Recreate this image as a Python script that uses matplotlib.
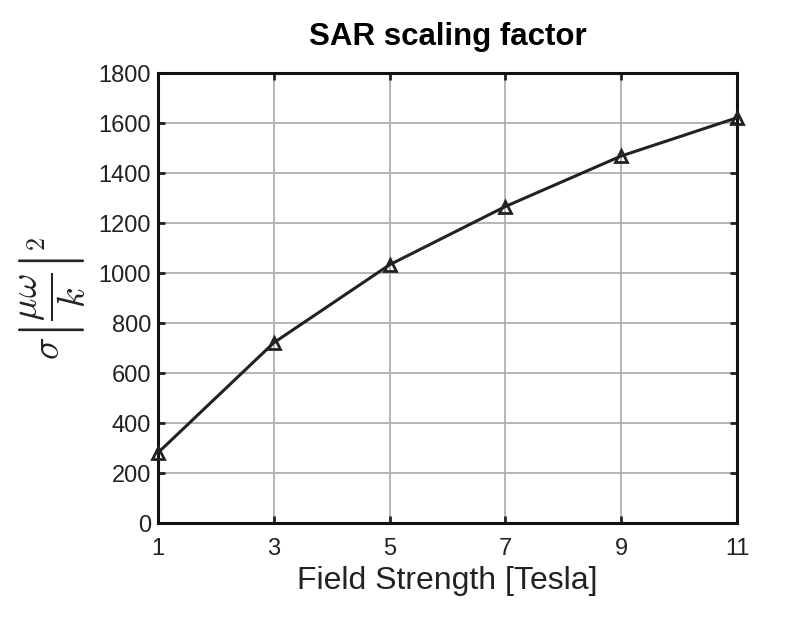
import matplotlib
matplotlib.use("agg")
import matplotlib.pyplot as plt

field_tesla = [1, 3, 5, 7, 9, 11]
sar_factor = [281, 721, 1033, 1266, 1468, 1621]
x_ticks = [1, 3, 5, 7, 9, 11]
y_ticks = [0, 200, 400, 600, 800, 1000, 1200, 1400, 1600, 1800]

plt.rcParams["font.family"] = ["Liberation Sans", "DejaVu Sans"]
plt.rcParams["mathtext.fontset"] = "cm"

fig = plt.figure(figsize=(8, 6.25), dpi=100)
ax = fig.add_axes([158 / 800, 1 - 523 / 625, (737 - 158) / 800, (523 - 73) / 625])

ax.plot(field_tesla, sar_factor, color="#222222", lw=2.2, marker="^",
        markersize=8.5, markerfacecolor="none", markeredgecolor="#222222",
        markeredgewidth=2, zorder=3, clip_on=False)

ax.set_xlim(1, 11)
ax.set_ylim(0, 1800)
ax.set_xticks(x_ticks)
ax.set_yticks(y_ticks)
ax.grid(True, color="#b0b0b0", lw=1.3)
ax.tick_params(direction="in", length=5, width=2, top=True, right=True,
               labelsize=17, colors="#222222")
ax.tick_params(axis="x", pad=11)
ax.tick_params(axis="y", pad=5)
for s in ax.spines.values():
    s.set_linewidth(2.2)
    s.set_color("#111111")

ax.set_title("SAR scaling factor", fontsize=22.5, fontweight="bold", pad=20)
ax.set_xlabel("Field Strength [Tesla]", fontsize=23, labelpad=4, color="#222222")
ax.set_ylabel(r"$\sigma\left|\dfrac{\mu\omega}{k}\right|^2$", fontsize=27,
              labelpad=8, color="#222222")

fig.savefig("out.png", dpi=100)
